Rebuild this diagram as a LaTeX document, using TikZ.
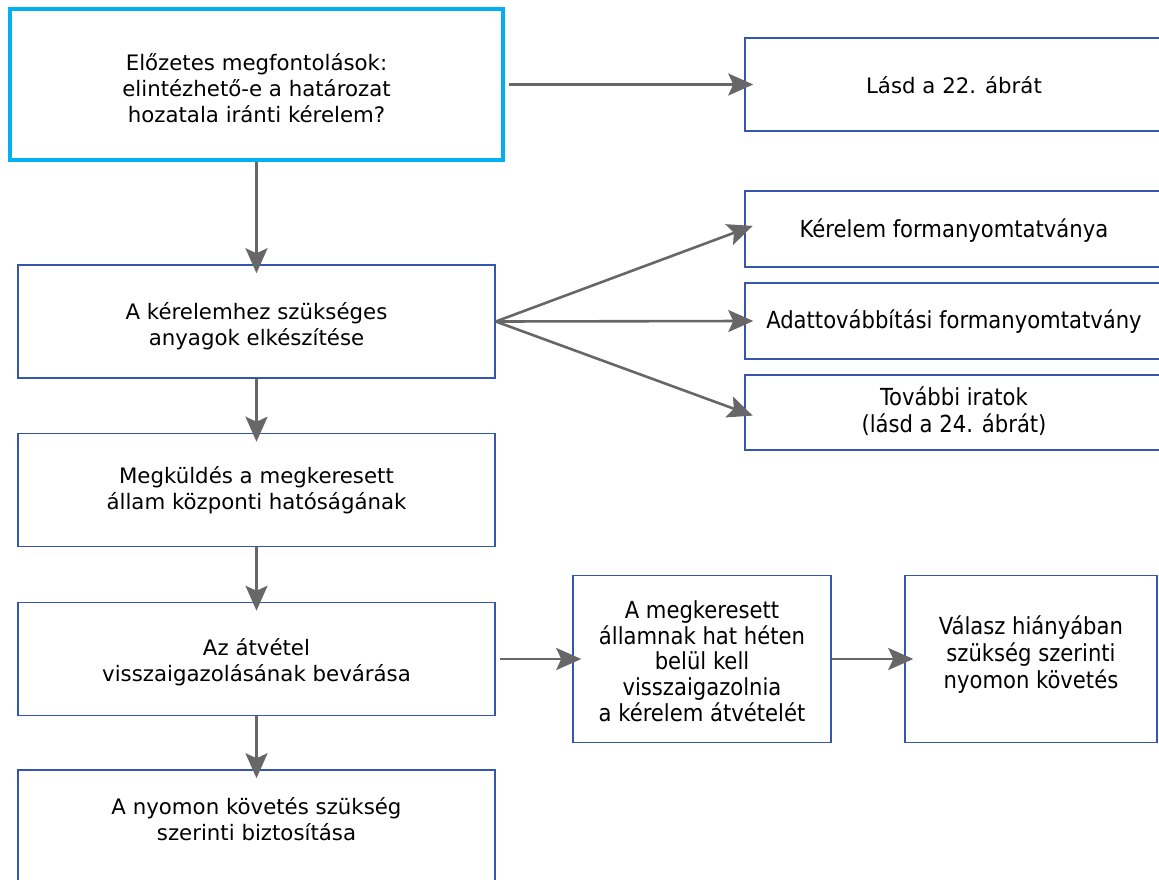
\documentclass[tikz,border=0pt]{standalone}
\usepackage{fontspec}
\setmainfont{DejaVu Sans}
\newfontfamily\condfont{DejaVu Sans Condensed}
\usetikzlibrary{arrows.meta}
\definecolor{startcyan}{HTML}{00B0F0}
\definecolor{boxblue}{HTML}{3556AE}
\definecolor{conngray}{HTML}{676767}
\begin{document}
\begin{tikzpicture}[x=1pt,y=-1pt,
  wide/.style={font=\fontsize{21.3}{26}\selectfont, align=center},
  narrow/.style={font=\condfont\fontsize{23.5}{27}\selectfont, align=center},
  narrowtight/.style={font=\condfont\fontsize{23.5}{25.75}\selectfont, align=center},
  box/.style={draw=boxblue, line width=1.5pt, fill=white, inner sep=0pt},
  startbox/.style={box, draw=startcyan, line width=4pt},
  conn/.style={draw=conngray, line width=2.6pt,
    -{Stealth[length=25pt,width=22pt,inset=5pt]}, shorten >=-9pt}]
\useasboundingbox (0,0) rectangle (1159,879);
\clip (0,0) rectangle (1159,879);

% left column: boxes
\node[startbox, minimum width=493pt, minimum height=151pt] (pre) at (256.5,84.5) {};
\node[box, minimum width=477pt, minimum height=113pt] (prep) at (256.5,321.5) {};
\node[box, minimum width=477pt, minimum height=113pt] (send) at (256.5,490) {};
\node[box, minimum width=477pt, minimum height=113pt] (wait) at (256.5,659) {};
\node[box, minimum width=477pt, minimum height=113pt] (follow) at (256.5,826.5) {};

% right column: boxes
\node[box, minimum width=418pt, minimum height=93pt] (see22) at (954,84.5) {};
\node[box, minimum width=418pt, minimum height=76pt] (form) at (954,229) {};
\node[box, minimum width=418pt, minimum height=76pt] (data) at (954,321) {};
\node[box, minimum width=418pt, minimum height=75pt] (docs) at (954,412.5) {};
\node[box, minimum width=258pt, minimum height=167pt] (sixw) at (702,659) {};
\node[box, minimum width=252pt, minimum height=167pt] (noreply) at (1031,659) {};

% box texts
\node[wide] (pretext) at (256.5,88.5)
  {Előzetes megfontolások:\\elintézhető-e a határozat\\hozatala iránti kérelem?};
\node[wide] (preptext) at (256.5,326.5)
  {A kérelemhez szükséges\\anyagok elkészítése};
\node[wide] (sendtext) at (256.5,490)
  {Megküldés a megkeresett\\állam központi hatóságának};
\node[wide] (waittext) at (256.5,662.5)
  {Az átvétel\\visszaigazolásának bevárása};
\node[wide] (followtext) at (256.5,819)
  {A nyomon követés szükség\\szerinti biztosítása};
\node[wide] (see22text) at (954,85.5) {Lásd a 22. ábrát};
\node[narrow] (formtext) at (954,231) {Kérelem formanyomtatványa};
\node[narrow] (datatext) at (954,322) {Adattovábbítási formanyomtatvány};
\node[narrow] (docstext) at (954,411.5) {További iratok\\(lásd a 24. ábrát)};
\node[narrowtight] (sixwtext) at (702,661)
  {A megkeresett\\államnak hat héten\\belül kell\\visszaigazolnia\\a kérelem átvételét};
\node[narrow] (noreplytext) at (1031,654.5)
  {Válasz hiányában\\szükség szerinti\\nyomon követés};

% connectors
\draw[conn, shorten <=4pt] (pre.east) -- (see22.west);
\draw[conn] (pre.south) -- (prep.north);
\draw[conn] (prep.east) -- (form.west);
\draw[conn] (prep.east) -- (data.west);
\draw[conn] (prep.east) -- (docs.west);
\draw[conn] (prep.south) -- (send.north);
\draw[conn] (send.south) -- (wait.north);
\draw[conn] (wait.south) -- (follow.north);
\draw[conn, shorten <=4pt] (wait.east) -- (sixw.west);
\draw[conn] (sixw.east) -- (noreply.west);
\end{tikzpicture}
\end{document}
